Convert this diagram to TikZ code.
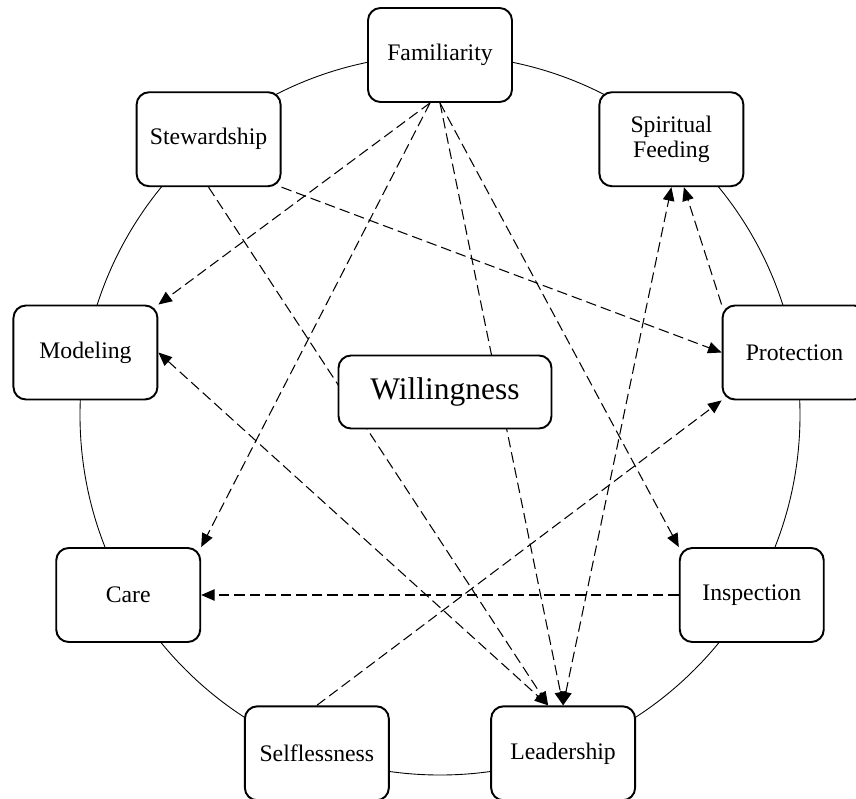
\documentclass[tikz,border=0pt]{standalone}
\usepackage{fontspec}
\setmainfont{Liberation Serif}
\usetikzlibrary{arrows.meta}
\begin{document}
\begin{tikzpicture}[
    box/.style={draw, line width=1.1pt, rounded corners=0.25cm, fill=white,
      minimum width=2.88cm, minimum height=1.88cm, align=center,
      font=\fontsize{13.5}{14.5}\selectfont},
    link/.style={dash pattern=on 0.21cm off 0.1cm, line width=0.6pt,
      -{Triangle[length=2.7mm,width=2.3mm]}},
    twoway/.style={{Triangle[length=2.7mm,width=2.3mm]}-{Triangle[length=2.7mm,width=2.3mm]}}
  ]
  \useasboundingbox (-8.8,-7.66) rectangle (8.32,8.3);
  \clip (-8.8,-7.66) rectangle (8.32,8.3);
  \draw[line width=0.5pt] (0,0) circle (7.2);
  \draw
    (90:7.2) node[box] (fam){Familiarity}
    (50:7.2) node[box] (sf){Spiritual\\Feeding}
    (10:7.2) node[box] (prot){Protection}
    (-30:7.2) node[box] (insp){Inspection}
    (-70:7.2) node[box] (lead){Leadership}
    (-110:7.2) node[box] (self){Selflessness}
    (-150:7.2) node[box] (care){Care}
    (170:7.2) node[box] (mod){Modeling}
    (130:7.2) node[box] (stew){Stewardship};
  \begin{scope}[link]
    \draw ([xshift=-0.2cm]fam.south) to (mod.north east);
    \draw ([xshift=-0.2cm]fam.south) to (care.north east);
    \draw (fam.south) to (lead.north);
    \draw (fam.south) to (insp.north west);
    \draw (stew.south east) to (prot.west);
    \draw (stew.south) to ([xshift=-0.3cm]lead.north);
    \draw[twoway] (mod.east) to ([xshift=-0.3cm]lead.north);
    \draw[twoway] (lead.north) to (sf.south);
    \draw (prot.north west) to ([xshift=0.25cm]sf.south);
    \draw (self.north) to (prot.south west);
    \draw (insp.west) to (care.east);
  \end{scope}
  \node[box, minimum width=4.26cm, minimum height=1.46cm,
    font=\fontsize{17.9}{20}\selectfont] (will) at (0.1,0.46) {Willingness};
\end{tikzpicture}
\end{document}
